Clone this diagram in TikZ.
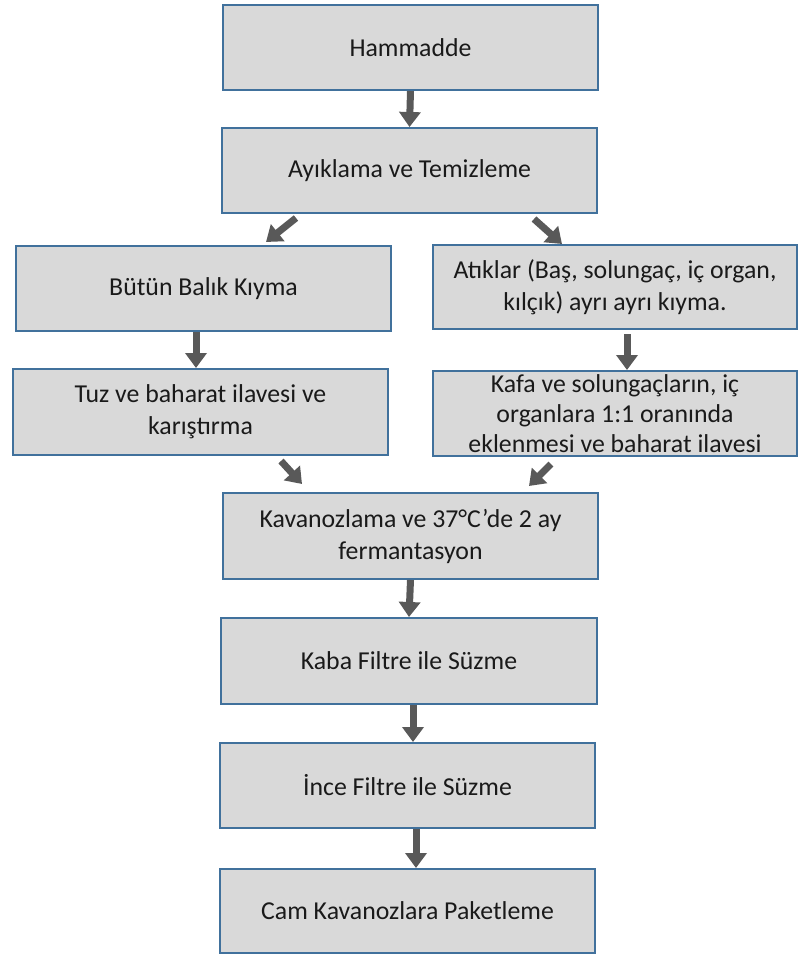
\documentclass[tikz,border=0pt]{standalone}
\usepackage{fontspec}
\setmainfont{Carlito}
\usetikzlibrary{arrows.meta}
\definecolor{boxfill}{HTML}{D9D9D9}
\definecolor{boxline}{HTML}{41719C}
\definecolor{arrowgray}{HTML}{595959}
\definecolor{txt}{HTML}{1A1A1A}
\tikzset{
  procbox/.style={draw=boxline, fill=boxfill, line width=2pt, rectangle, inner sep=0pt,
    align=center, text=txt, font=\fontsize{25.8}{32}\selectfont},
  flowarrow/.style={draw=arrowgray, line width=7pt, -{Triangle[width=21pt,length=15pt]}}
}
\begin{document}
\begin{tikzpicture}[x=1pt,y=-1pt]
\useasboundingbox (0,0) rectangle (798,956);
\node[procbox, minimum width=375pt, minimum height=85pt] (ham) at (410.5,47.5) {Hammadde};
\node[procbox, minimum width=375pt, minimum height=85pt] (ayik) at (409.5,170.5) {Ayıklama ve Temizleme};
\node[procbox, minimum width=375pt, minimum height=85pt] (but) at (203.5,288.5) {Bütün Balık Kıyma};
\node[procbox, minimum width=375pt, minimum height=86pt] (tuz) at (200.5,412) {Tuz ve baharat ilavesi ve\\karıştırma};
\node[procbox, minimum width=364pt, minimum height=84pt] (atik) at (615,287) {Atıklar (Baş, solungaç, iç organ,\\kılçık) ayrı ayrı kıyma.};
\node[procbox, minimum width=364pt, minimum height=85pt, font=\fontsize{25.8}{30}\selectfont] (kafa) at (615,413.5) {Kafa ve solungaçların, iç\\organlara 1:1 oranında\\eklenmesi ve baharat ilavesi};
\node[procbox, minimum width=375pt, minimum height=86pt] (kav) at (410.5,536) {Kavanozlama ve 37°C’de 2 ay\\fermantasyon};
\node[procbox, minimum width=376pt, minimum height=86pt] (kaba) at (409,661) {Kaba Filtre ile Süzme};
\node[procbox, minimum width=375pt, minimum height=85pt] (ince) at (407.5,785.5) {İnce Filtre ile Süzme};
\node[procbox, minimum width=375pt, minimum height=84pt] (cam) at (407.5,911) {Cam Kavanozlara Paketleme};

\draw[flowarrow] (ham.south) -- (ayik.north);
\draw[flowarrow] ([shift={(75,4)}]ayik.south west) -- ([shift={(-126,-3)}]but.north east);
\draw[flowarrow] ([shift={(-64,5)}]ayik.south east) -- ([shift={(130,0)}]atik.north west);
\draw[flowarrow] ([xshift=-7.5pt]but.south) -- ([xshift=-4.5pt]tuz.north);
\draw[flowarrow] ([shift={(12,4)}]atik.south) -- ([xshift=12pt]kafa.north);
\draw[flowarrow] ([shift={(-108,5)}]tuz.south east) -- ([shift={(80,-8)}]kav.north west);
\draw[flowarrow] ([shift={(119,7)}]kafa.south west) -- ([shift={(-70,-6)}]kav.north east);
\draw[flowarrow] (kav.south) -- (kaba.north);
\draw[flowarrow] ([xshift=4pt]kaba.south) -- ([xshift=5.5pt]ince.north);
\draw[flowarrow] ([xshift=8.5pt]ince.south) -- ([xshift=8.5pt]cam.north);
\end{tikzpicture}
\end{document}
